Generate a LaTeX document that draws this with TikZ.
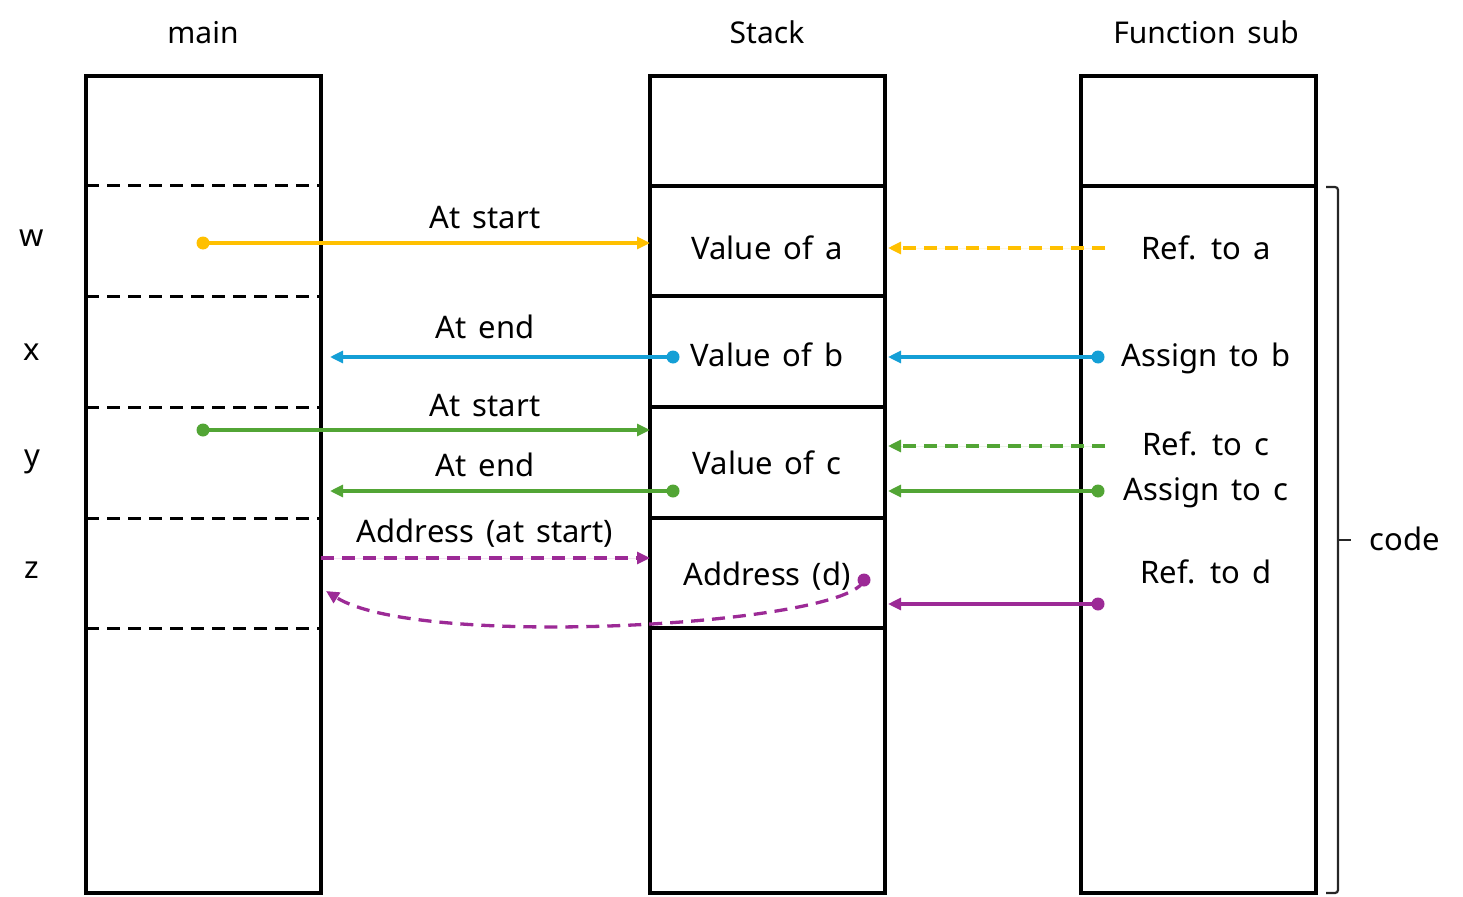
\documentclass[tikz,border=0pt]{standalone}
\usepackage{fontspec}
\setmainfont[WordSpace=1.5]{Noto Sans}
\usetikzlibrary{arrows.meta}
\definecolor{cyel}{HTML}{FFC000}
\definecolor{cblu}{HTML}{149FD6}
\definecolor{cgrn}{HTML}{52A535}
\definecolor{cpur}{HTML}{9C2A96}
\begin{document}
\begin{tikzpicture}[x=1pt,y=-1pt,
  thickline/.style={line width=3.2pt},
  cut/.style={line width=3pt, dash pattern=on 13pt off 8pt},
  lbl/.style={font=\fontsize{31}{37}\selectfont, anchor=base, inner sep=0pt},
  ttl/.style={font=\fontsize{30}{36}\selectfont, anchor=base, inner sep=0pt},
  arrlink/.style={line width=3.1pt, -{Triangle[length=13pt,width=12pt]}},
  arrdash/.style={arrlink, dash pattern=on 13pt off 8pt},
  dotnode/.style={circle, fill, inner sep=0pt, minimum size=13pt},
  boxnode/.style={draw=black, line width=3.2pt, rectangle, anchor=north west, minimum width=235pt, minimum height=817pt, inner sep=0pt, outer sep=0pt},
]
\useasboundingbox (0,0) rectangle (1463,896);

% boxes
\node[boxnode] (mainbox) at (86,76) {};
\node[boxnode] (stackbox) at (650,76) {};
\node[boxnode] (funcbox) at (1081,76) {};

% separators
\foreach \yy in {186,296,407,518,628} {
  \draw[cut] (86,\yy) -- (321,\yy);
  \draw[thickline] (650,\yy) -- (885,\yy);
}
\draw[thickline] (1081,186) -- (1316,186);

% titles
\node[ttl] (tmain) at (203,44) {main};
\node[ttl] (tstack) at (767,44) {Stack};
\node[ttl] (tfunc) at (1206,44) {Function sub};

% variable names
\node[lbl] (lw) at (32,246) {w};
\node[lbl] (lx) at (32,360) {x};
\node[lbl] (ly) at (32,466) {y};
\node[lbl] (lz) at (32,578) {z};

% stack texts
\node[lbl] (sa) at (767,259) {Value of a};
\node[lbl] (sb) at (767,366) {Value of b};
\node[lbl] (sc) at (767,474) {Value of c};
\node[lbl] (sd) at (767,585) {Address (d)};

% function texts
\node[lbl] (fa) at (1206,259) {Ref. to a};
\node[lbl] (fb) at (1206,366) {Assign to b};
\node[lbl] (fc) at (1206,455) {Ref. to c};
\node[lbl] (fc2) at (1206,500) {Assign to c};
\node[lbl] (fd) at (1206,583) {Ref. to d};

% arrow labels
\node[lbl] (l1) at (485,228) {At start};
\node[lbl] (l2) at (485,338) {At end};
\node[lbl] (l3) at (485,416) {At start};
\node[lbl] (l4) at (485,476) {At end};
\node[lbl] (l5) at (485,542) {Address (at start)};

% code brace
\draw[line width=2.2pt, color=black!85, rounded corners=3pt] (1326,187) -- (1338,187) -- (1338,893) -- (1326,893);
\coordinate (bt) at (1338,540);
\coordinate (btip) at (1351,540);
\draw[line width=2.2pt, color=black!85] (bt) -- (btip);
\node[lbl] (code) at (1405,550) {code};

% main <-> stack connectors
\node[dotnode, fill=cyel] (d1) at (203,243) {};
\coordinate (e1) at (650,243);
\draw[arrlink, draw=cyel, fill=cyel] (d1.center) -- (e1);

\node[dotnode, fill=cblu] (d2) at (673,357) {};
\coordinate (e2) at (330,357);
\draw[arrlink, draw=cblu, fill=cblu] (d2.center) -- (e2);

\node[dotnode, fill=cgrn] (d3) at (203,430) {};
\coordinate (e3) at (650,430);
\draw[arrlink, draw=cgrn, fill=cgrn] (d3.center) -- (e3);

\node[dotnode, fill=cgrn] (d4) at (673,491) {};
\coordinate (e4) at (330,491);
\draw[arrlink, draw=cgrn, fill=cgrn] (d4.center) -- (e4);

\coordinate (s5) at (321,558);
\coordinate (e5) at (650,558);
\draw[arrdash, draw=cpur, fill=cpur] (s5) -- (e5);

\node[dotnode, fill=cpur] (d6) at (864,580) {};
\coordinate (e6) at (326,591);
\draw[arrdash, draw=cpur, line width=3.3pt] (d6.center) .. controls (850,625) and (420,650) .. (e6);

% function -> stack connectors
\coordinate (s7) at (1105,248);
\coordinate (e7) at (888,248);
\draw[arrdash, draw=cyel, fill=cyel] (s7) -- (e7);

\node[dotnode, fill=cblu] (d8) at (1098,357) {};
\coordinate (e8) at (888,357);
\draw[arrlink, draw=cblu, fill=cblu] (d8.center) -- (e8);

\coordinate (s9) at (1105,446);
\coordinate (e9) at (888,446);
\draw[arrdash, draw=cgrn, fill=cgrn] (s9) -- (e9);

\node[dotnode, fill=cgrn] (d10) at (1098,491) {};
\coordinate (e10) at (888,491);
\draw[arrlink, draw=cgrn, fill=cgrn] (d10.center) -- (e10);

\node[dotnode, fill=cpur] (d11) at (1098,604) {};
\coordinate (e11) at (888,604);
\draw[arrlink, draw=cpur, fill=cpur] (d11.center) -- (e11);
\end{tikzpicture}
\end{document}
